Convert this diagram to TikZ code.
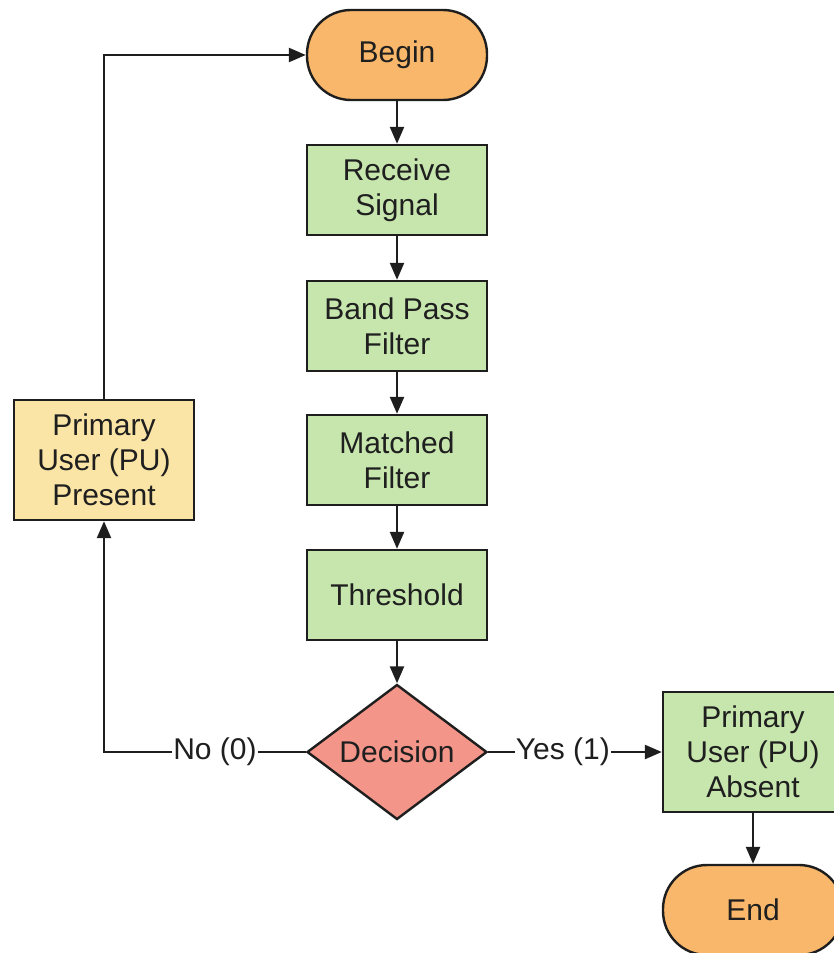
\documentclass[tikz,border=0pt]{standalone}
\usepackage{fontspec}
\setmainfont{Liberation Sans}
\usetikzlibrary{shapes.geometric,arrows.meta}
\definecolor{cOrange}{HTML}{F8B76A}
\definecolor{cGreen}{HTML}{C6E6AD}
\definecolor{cYellow}{HTML}{FBE5A6}
\definecolor{cRed}{HTML}{F4958A}
\definecolor{cLine}{HTML}{1E1E1E}
\begin{document}
\begin{tikzpicture}[x=1pt,y=-1pt,
  base/.style={draw=cLine,line width=2.4pt,inner sep=0pt,align=center,
    font=\fontsize{30}{35}\selectfont,text=black!88},
  term/.style={base,rectangle,rounded corners=44pt,fill=cOrange,minimum width=180pt,minimum height=90pt},
  procbox/.style={base,rectangle,fill=cGreen,minimum width=180pt,minimum height=90pt},
  pubox/.style={base,rectangle,minimum width=180pt,minimum height=120pt},
  decbox/.style={base,diamond,aspect=1.333,fill=cRed,minimum width=180pt,minimum height=135pt},
  conn/.style={draw=cLine,line width=2.4pt,-{Triangle[length=17pt,width=14pt]}},
  lbl/.style={fill=white,inner sep=1pt,font=\fontsize{30}{35}\selectfont,text=black!88}]
\useasboundingbox (0,0) rectangle (834,953);
\node[term] (begin) at (397,55) {Begin};
\node[procbox] (recv) at (397,190) {Receive\\Signal};
\node[procbox] (bpf) at (397,326) {Band Pass\\Filter};
\node[procbox] (mf) at (397,460) {Matched\\Filter};
\node[procbox] (thr) at (397,595) {Threshold};
\node[decbox] (dec) at (397,752) {Decision};
\node[pubox,fill=cYellow] (pres) at (104,460) {Primary\\User (PU)\\Present};
\node[pubox,fill=cGreen] (abs) at (753,752) {Primary\\User (PU)\\Absent};
\node[term] (end) at (753,910) {End};
\coordinate (ctl) at (104,55);
\coordinate (cbl) at (104,752);
\draw[conn] (begin) -- (recv);
\draw[conn] (recv) -- (bpf);
\draw[conn] (bpf) -- (mf);
\draw[conn] (mf) -- (thr);
\draw[conn] (thr) -- (dec);
\draw[conn] (abs) -- (end);
\draw[conn] (dec.east) -- node[lbl,pos=0.43] {Yes (1)} (abs.west);
\draw[conn] (dec.west) -- node[lbl,pos=0.45] {No (0)} (cbl) -- (pres.south);
\draw[conn] (pres.north) -- (ctl) -- (begin.west);
\end{tikzpicture}
\end{document}
